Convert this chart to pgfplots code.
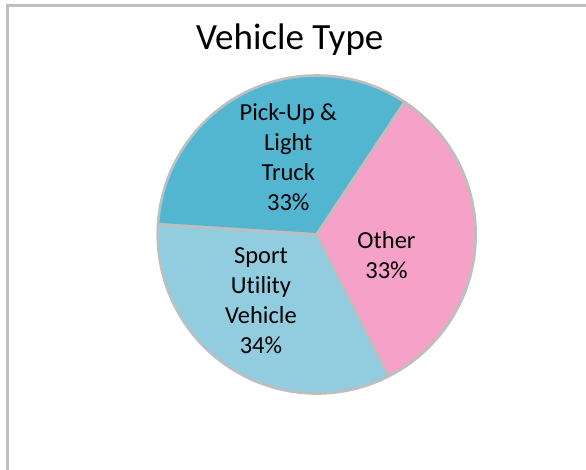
\documentclass[border=0pt]{standalone}
\usepackage{pgfplots}
\pgfplotsset{compat=1.18}
\usepackage{fontspec}
\setmainfont{Carlito}[Ligatures={NoCommon}]
\definecolor{pickup}{RGB}{83,182,209}
\definecolor{suv}{RGB}{146,205,223}
\definecolor{other}{RGB}{245,161,200}
\definecolor{edge}{RGB}{190,190,190}
\begin{document}
\begin{tikzpicture}
% slice values (percent), drawn clockwise from the first-slice angle
\def\vPick{33.3}
\def\vOther{33.2}
\def\vSUV{33.5}
\def\startang{176.3}
\pgfmathsetmacro{\aA}{\startang}
\pgfmathsetmacro{\aB}{\aA-3.6*\vPick}
\pgfmathsetmacro{\aC}{\aB-3.6*\vOther}
\pgfmathsetmacro{\aD}{\aC-3.6*\vSUV}
\begin{axis}[
  width=586pt, height=470pt, scale only axis,
  xmin=0, xmax=586, ymin=0, ymax=470,
  hide axis, clip=true,
]
\path (axis cs:0,0) rectangle (axis cs:586,470);
% chart frame
\draw[edge, line width=2.5pt] (axis cs:7.5,-5) -- (axis cs:7.5,464.5) -- (axis cs:590,464.5);
% slices
\filldraw[fill=pickup, draw=edge, line width=2.6pt, line join=round]
  (axis cs:316.7,235.5) -- ++(\aA:159pt) arc[start angle=\aA, end angle=\aB, radius=159pt] -- cycle;
\filldraw[fill=other, draw=edge, line width=2.6pt, line join=round]
  (axis cs:316.7,235.5) -- ++(\aB:159pt) arc[start angle=\aB, end angle=\aC, radius=159pt] -- cycle;
\filldraw[fill=suv, draw=edge, line width=2.6pt, line join=round]
  (axis cs:316.7,235.5) -- ++(\aC:159pt) arc[start angle=\aC, end angle=\aD, radius=159pt] -- cycle;
% title
\node[anchor=base, font=\fontsize{37}{44}\selectfont] at (axis cs:289.7,420) {Vehicle Type};
% labels
\node[align=center, font=\fontsize{24.5}{30}\selectfont, inner sep=0pt] at (axis cs:288.3,312.7) {Pick-Up \&\\Light\\Truck\\33\%};
\node[align=center, font=\fontsize{24.5}{30}\selectfont, inner sep=0pt] at (axis cs:261,169) {Sport\\Utility\\Vehicle\\34\%};
\node[align=center, font=\fontsize{24.5}{30}\selectfont, inner sep=0pt] at (axis cs:386.5,214.5) {Other\\33\%};
\end{axis}
\end{tikzpicture}
\end{document}
